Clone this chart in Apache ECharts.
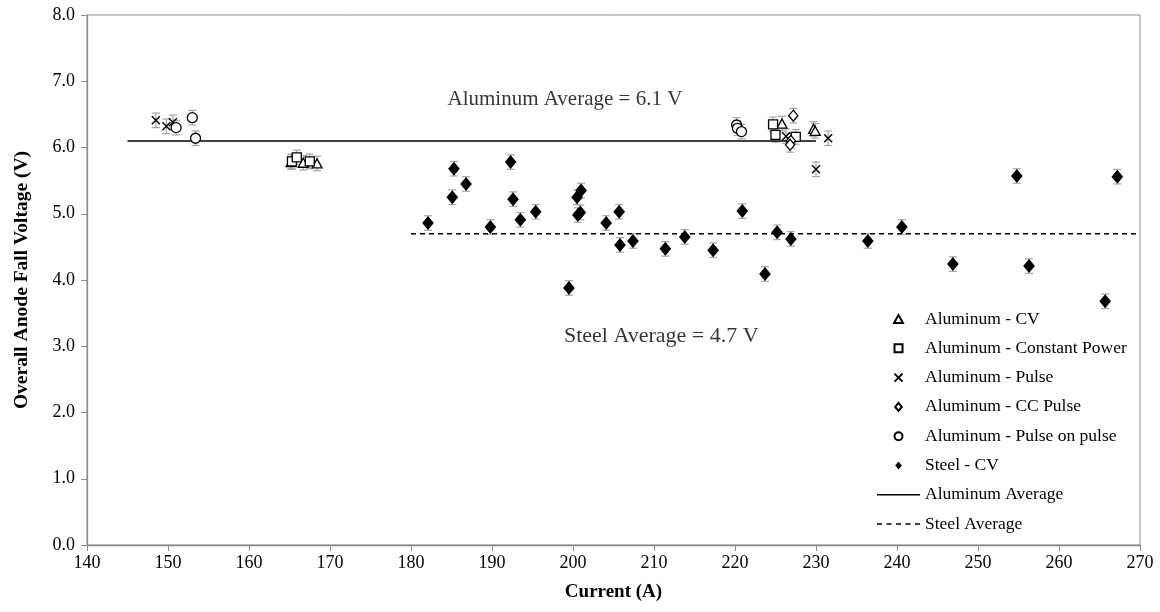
<!DOCTYPE html>
<html><head><meta charset="utf-8">
<script src="https://cdn.jsdelivr.net/npm/echarts@6/dist/echarts.min.js"></script>
<style>html,body{margin:0;padding:0;background:#fff}#c{width:1160px;height:612px}</style>
</head><body><div id="c"></div>
<script>
// Data (Current A, Voltage V)
var alCV = [[165.2,5.78],[166.7,5.77],[168.4,5.76],[225.8,6.36],[229.7,6.28],[229.9,6.25]];
var alCP = [[165.3,5.79],[165.9,5.85],[167.5,5.79],[224.7,6.35],[225.0,6.19],[227.5,6.16]];
var alPulse = [[148.5,6.41],[149.8,6.32],[150.6,6.38],[226.3,6.17],[230.0,5.67],[231.5,6.14]];
var alCCPulse = [[227.2,6.48],[226.9,6.10],[226.8,6.04]];
var alPoP = [[151.0,6.30],[153.0,6.45],[153.4,6.14],[220.2,6.34],[220.3,6.29],[220.8,6.24]];
var steelCV = [[182.1,4.86],[185.1,5.25],[185.3,5.68],[186.8,5.45],[189.8,4.80],[192.3,5.78],[192.6,5.22],
  [193.5,4.91],[195.4,5.03],[199.5,3.88],[200.5,5.25],[201.0,5.35],[200.6,4.98],[200.9,5.02],[204.1,4.86],
  [205.7,5.03],[205.8,4.53],[207.4,4.59],[211.4,4.47],[213.8,4.65],[217.3,4.45],[220.9,5.04],[223.7,4.09],
  [225.2,4.72],[226.9,4.62],[236.4,4.59],[240.6,4.80],[246.9,4.24],[254.8,5.57],[256.3,4.21],[265.7,3.68],[267.2,5.56]];
var errHalf = 0.11;
var alAvg = 6.1, alAvgRange = [145, 230];
var stAvg = 4.7, stAvgRange = [180, 270];
var annotations = [
  {text: 'Aluminum Average = 6.1 V', at: [199, 6.72], size: 21},
  {text: 'Steel Average = 4.7 V', at: [210.9, 3.15], size: 22}
];
var legendNames = ['Aluminum - CV','Aluminum - Constant Power','Aluminum - Pulse','Aluminum - CC Pulse','Aluminum - Pulse on pulse','Steel - CV','Aluminum Average','Steel Average'];

var FONT = '"Liberation Serif","Times New Roman",serif';
var allPts = [].concat(alCV, alCP, alPulse, alCCPulse, alPoP, steelCV);

var TRI = 'path://M5,0L10,9L0,9Z';
var RECT = 'path://M0,0L10,0L10,10L0,10Z';
var DIA = 'path://M5,0L10,6L5,12L0,6Z';
var XS = 'path://M0,0L10,10M10,0L0,10';
var LEG_SOLID = 'path://M0,0H43V1.5H0Z';
var LEG_DASH = 'path://M0,0H5V1.5H0ZM9.5,0H14.5V1.5H9.5ZM19,0H24V1.5H19ZM28.5,0H33.5V1.5H28.5ZM38,0H43V1.5H38Z';

var openStyle = {color:'#fff', borderColor:'#000', borderWidth:1.3, opacity:1};
var legendData = legendNames.map(function(n){
  if (n === 'Aluminum Average') return {name:n, icon:LEG_SOLID, itemStyle:{color:'#000', borderWidth:0}};
  if (n === 'Steel Average') return {name:n, icon:LEG_DASH, itemStyle:{color:'#000', borderWidth:0}};
  return {name:n};
});
var chart = echarts.init(document.getElementById('c'));
chart.setOption({
  animation:false,
  textStyle:{fontFamily:FONT},
  grid:{left:87, right:20, top:15, bottom:67, show:true, borderColor:'#8c8c8c', borderWidth:1},
  xAxis:{type:'value', min:140, max:270, interval:10,
    name:'Current (A)', nameLocation:'middle', nameGap:38,
    nameTextStyle:{fontFamily:FONT, fontSize:19, fontWeight:'bold', color:'#000'},
    axisLine:{show:true, lineStyle:{color:'#8c8c8c', width:1.3}},
    axisTick:{show:true, inside:false, length:6, lineStyle:{color:'#8c8c8c'}},
    axisLabel:{fontFamily:FONT, fontSize:18, color:'#000', margin:9},
    splitLine:{show:false}},
  yAxis:{type:'value', min:0, max:8, interval:1,
    name:'Overall Anode Fall Voltage (V)', nameLocation:'middle', nameGap:55,
    nameTextStyle:{fontFamily:FONT, fontSize:19.5, fontWeight:'bold', color:'#000'},
    axisLine:{show:true, lineStyle:{color:'#8c8c8c', width:1.3}},
    axisTick:{show:true, inside:false, length:6, lineStyle:{color:'#8c8c8c'}},
    axisLabel:{fontFamily:FONT, fontSize:18, color:'#000', margin:12, formatter:function(v){return v.toFixed(1);}},
    splitLine:{show:false}},
  legend:{orient:'vertical', left:877, top:310, padding:0, data:legendData,
    itemWidth:43, itemHeight:8, itemGap:11.3, symbolKeepAspect:true,
    textStyle:{fontFamily:FONT, fontSize:17.5, color:'#000', lineHeight:16}},
  series:[
    {type:'custom', name:'err', silent:true, z:1, data:allPts,
      renderItem:function(params, api){
        var x = api.value(0), y = api.value(1);
        var top = api.coord([x, y + errHalf]), bot = api.coord([x, y - errHalf]);
        var w = 4;
        var st = {stroke:'#a6a6a6', lineWidth:1.2};
        return {type:'group', children:[
          {type:'line', shape:{x1:top[0], y1:top[1], x2:bot[0], y2:bot[1]}, style:st},
          {type:'line', shape:{x1:top[0]-w, y1:top[1], x2:top[0]+w, y2:top[1]}, style:st},
          {type:'line', shape:{x1:bot[0]-w, y1:bot[1], x2:bot[0]+w, y2:bot[1]}, style:st}
        ]};
      }},
    {type:'line', name:'Aluminum Average', data:[[alAvgRange[0],alAvg],[alAvgRange[1],alAvg]], symbol:'none', showSymbol:false, z:2,
      lineStyle:{color:'#000', width:1.5}, itemStyle:{color:'#000'}},
    {type:'line', name:'Steel Average', data:[[stAvgRange[0],stAvg],[stAvgRange[1],stAvg]], symbol:'none', showSymbol:false, z:2,
      lineStyle:{color:'#000', width:1.5, type:[5,4]}, itemStyle:{color:'#000'}},
    {type:'scatter', name:'Aluminum - CV', data:alCV, symbol:TRI, symbolSize:10, symbolKeepAspect:true, z:3, itemStyle:openStyle},
    {type:'scatter', name:'Aluminum - Constant Power', data:alCP, symbol:RECT, symbolSize:9, symbolKeepAspect:true, z:3, itemStyle:openStyle},
    {type:'scatter', name:'Aluminum - Pulse', data:alPulse, symbol:XS, symbolSize:8, symbolKeepAspect:true, z:3,
      itemStyle:{color:'none', borderColor:'#000', borderWidth:1.4, opacity:1}},
    {type:'scatter', name:'Aluminum - CC Pulse', data:alCCPulse, symbol:DIA, symbolSize:11, symbolKeepAspect:true, z:3, itemStyle:openStyle},
    {type:'scatter', name:'Aluminum - Pulse on pulse', data:alPoP, symbol:'circle', symbolSize:10, z:3, itemStyle:openStyle},
    {type:'scatter', name:'Steel - CV', data:steelCV, symbol:DIA, symbolSize:14, symbolKeepAspect:true, z:3, itemStyle:{color:'#000', opacity:1}},
    {type:'scatter', name:'notes', silent:true, symbolSize:0, z:4,
      data:annotations.map(function(a){return {value:a.at, label:{formatter:a.text, fontSize:a.size}};}),
      label:{show:true, position:'inside', fontFamily:FONT, fontSize:21, color:'#000'}}
  ]
});
</script></body></html>
